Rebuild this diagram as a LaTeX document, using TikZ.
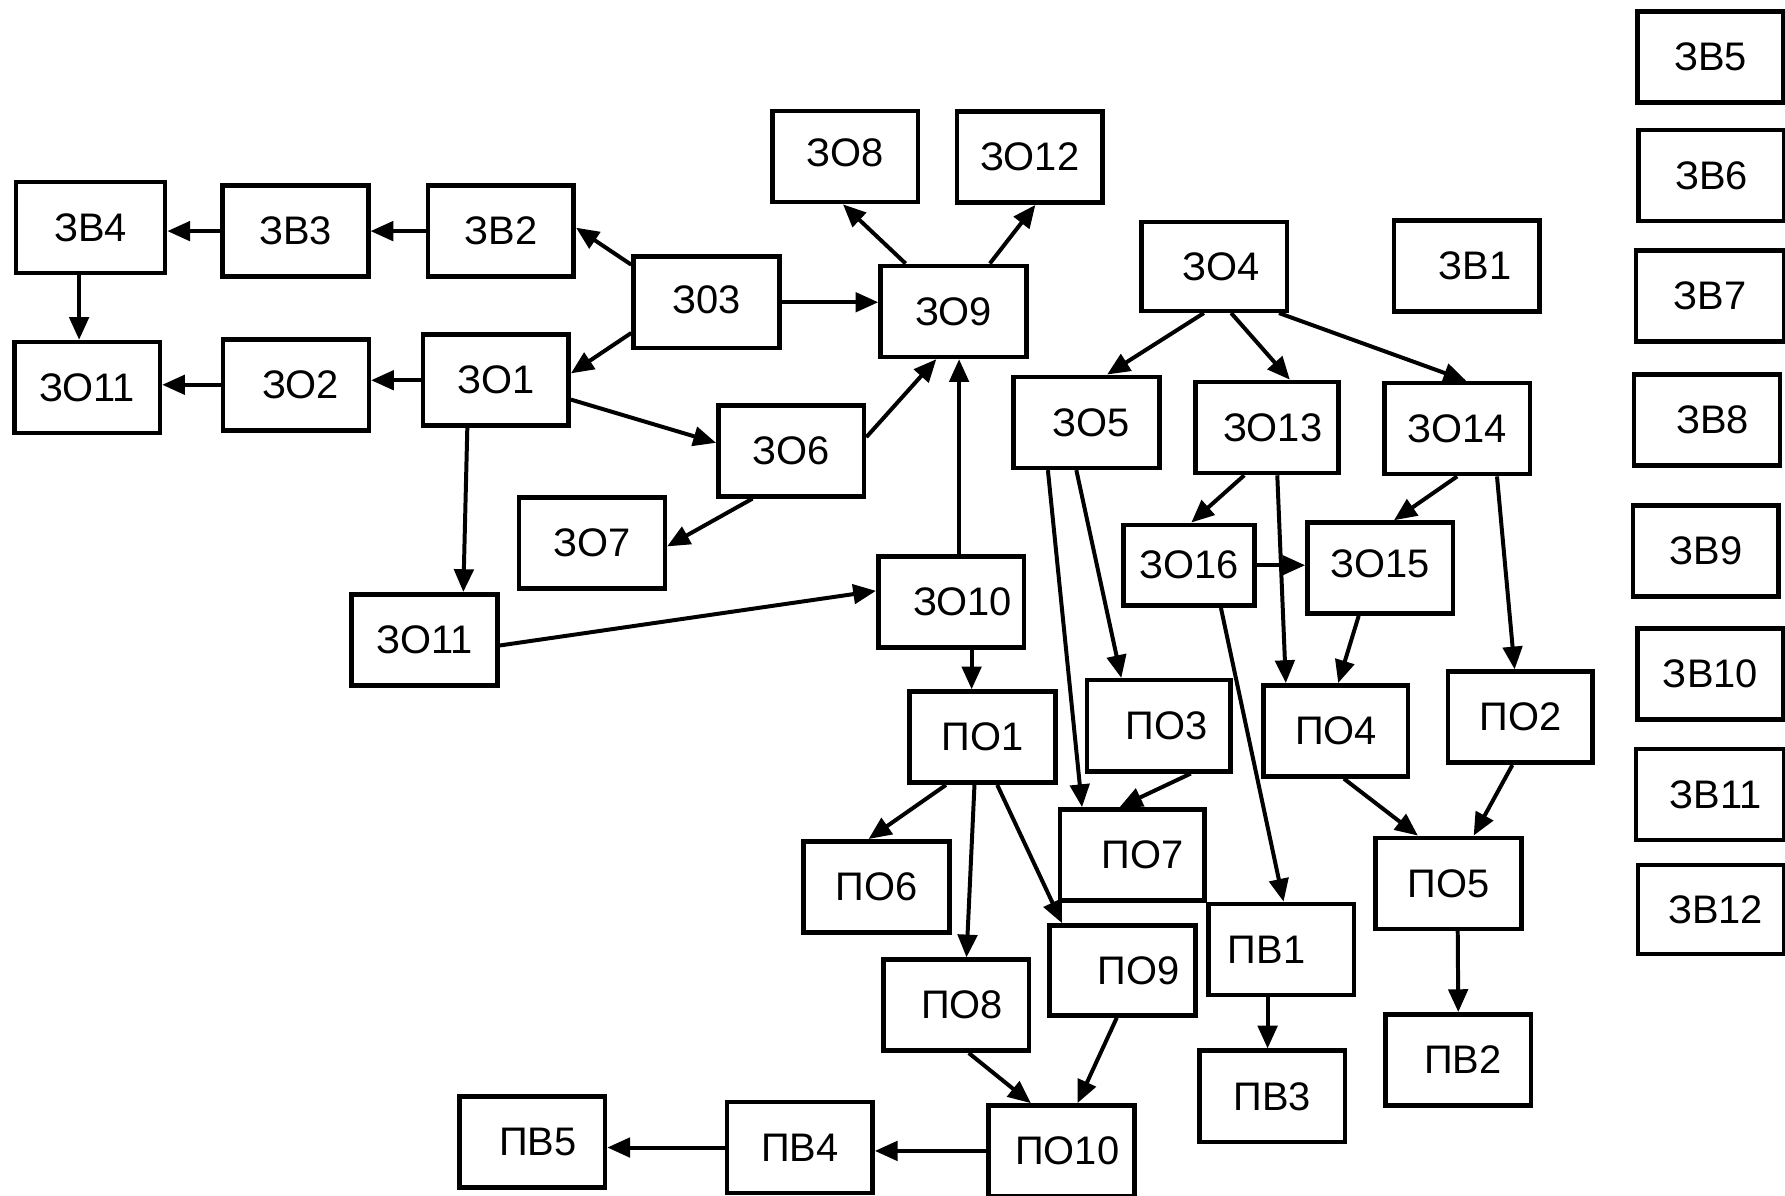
\documentclass[tikz,border=0pt]{standalone}
\usepackage{fontspec}
\setmainfont{Liberation Sans}
\usetikzlibrary{arrows.meta}
\tikzset{
  blk/.style={draw, line width=4pt, minimum width=128pt, minimum height=80pt,
    inner sep=0pt, font=\fontsize{35}{40}\selectfont},
  conn/.style={line width=3.5pt, -{Triangle[length=20pt,width=17pt]}},
}
\begin{document}
\begin{tikzpicture}[x=1pt,y=-1pt]
  \useasboundingbox (0,0) rectangle (1568,1050);
%%
  % Node: left group
  \node[blk, minimum width=131pt] (zv4) at (79.5,200) {ЗВ4};
  \node[blk] (zv3) at (259.5,203) {ЗВ3};
  \node[blk] (zv2) at (440,203) {ЗВ2};
  \node[blk] (zoA) at (76.5,340.5) {ЗО11};
  \node[blk] (zo2) at (260,338) {\hspace*{8pt}ЗО2};
  \node[blk] (zo1) at (435.5,334) {ЗО1};
  \node[blk] (zo3) at (620.5,265.5) {\raisebox{5pt}{З03}};
  \node[blk] (zo9) at (837.5,273.5) {ЗО9};
  \node[blk] (zo8) at (742.5,137.5) {\raisebox{7pt}{ЗО8}};
  \node[blk] (zo12) at (904.5,138) {ЗО12};
  \node[blk] (zo6) at (695,396) {ЗО6};
  \node[blk] (zo7) at (520,477) {ЗО7};
  \node[blk] (zoB) at (373,562) {ЗО11};
  \node[blk] (zo10) at (835.5,529) {\hspace*{20pt}ЗО10};
  % Node: right group
  \node[blk, minimum height=78pt] (zo4) at (1066.5,234) {\hspace*{12pt}ЗО4};
  \node[blk] (zv1) at (1288.5,233.5) {\hspace*{14pt}ЗВ1};
  \node[blk] (zo5) at (954.5,371) {\hspace*{8pt}ЗО5};
  \node[blk, minimum width=126pt] (zo13) at (1113,375.5) {\hspace*{10pt}ЗО13};
  \node[blk] (zo14) at (1280,376.5) {ЗО14};
  \node[blk, minimum width=115pt, minimum height=71pt] (zo16) at (1044.5,496.5) {ЗО16};
  \node[blk] (zo15) at (1212.5,499) {\raisebox{7pt}{ЗО15}};
  % Node: lower group
  \node[blk] (po1) at (863,647.5) {ПО1};
  \node[blk, minimum width=126pt] (po3) at (1018,637.5) {\hspace*{14pt}ПО3};
  \node[blk, minimum width=127pt] (po4) at (1173.5,642) {ПО4};
  \node[blk, minimum width=127pt] (po2) at (1335.5,630) {ПО2};
  \node[blk, minimum width=127pt] (po7) at (994.5,751) {\hspace*{18pt}ПО7};
  \node[blk] (po6) at (770,779) {ПО6};
  \node[blk] (po5) at (1272.5,776) {ПО5};
  \node[blk] (pv1) at (1125.5,834) {ПВ1\hspace*{26pt}};
  \node[blk, minimum height=79pt] (po9) at (986,852.5) {\hspace*{28pt}ПО9};
  \node[blk] (po8) at (840,883) {\hspace*{10pt}ПО8};
  \node[blk] (pv3) at (1117.5,963) {ПВ3};
  \node[blk] (pv2) at (1281,931) {\hspace*{8pt}ПВ2};
  \node[blk] (po10) at (932.5,1011) {\hspace*{10pt}ПО10};
  \node[blk] (pv4) at (702.5,1008) {ПВ4};
  \node[blk] (pv5) at (467.5,1003) {\hspace*{10pt}ПВ5};
  % Node: column
  \node[blk] (zv5) at (1502.5,50) {ЗВ5};
  \node[blk] (zv6) at (1503.5,154) {ЗВ6};
  \node[blk, minimum width=130pt] (zv7) at (1502,260) {ЗВ7};
  \node[blk] (zv8) at (1499.5,369) {\hspace*{10pt}ЗВ8};
  \node[blk] (zv9) at (1498.5,484) {ЗВ9};
  \node[blk] (zv10) at (1502.5,592) {ЗВ10};
  \node[blk, minimum width=130pt] (zv11) at (1502,698) {\hspace*{10pt}ЗВ11};
  \node[blk, minimum height=78pt] (zv12) at (1503,799) {\hspace*{8pt}ЗВ12};
%%
  % Edge: left group
  \draw[conn] (zv3.west) -- (zv3.west -| zv4.east);
  \draw[conn] (zv2.west) -- (zv2.west -| zv3.east);
  \draw[conn] ([xshift=-10pt]zv4.south) -- ([xshift=-10pt]zv4.south |- zoA.north);
  \draw[conn] (zo2.west) -- (zo2.west -| zoA.east);
  \draw[conn] (zo1.west) -- (zo1.west -| zo2.east);
  \draw[conn] ([yshift=-9pt]zo3.north west) -- ([yshift=3pt]zv2.east);
  \draw[conn] ([yshift=15pt]zo3.south west) -- ([yshift=6pt]zo1.east);
  \draw[conn] (zo3.east) -- (zo3.east -| zo9.west);
  \draw[conn] ([xshift=-42pt]zo9.north) -- ([xshift=-2pt]zo8.south);
  \draw[conn] ([xshift=32pt]zo9.north) -- ([xshift=5pt]zo12.south);
  \draw[conn] ([yshift=-17pt]zo1.east) -- ([yshift=7pt]zo6.west);
  \draw[conn] ([yshift=12pt]zo6.east) -- ([xshift=-15pt]zo9.south);
  \draw[conn] ([xshift=7pt]zo10.north) -- ([xshift=7pt]zo10.north |- zo9.south);
  \draw[conn] ([xshift=-34pt]zo6.south) -- ([yshift=-3pt]zo7.east);
  \draw[conn] ([xshift=-25pt]zo1.south) -- ([xshift=34pt]zoB.north);
  \draw[conn] ([yshift=-5pt]zoB.east) -- ([yshift=10pt]zo10.west);
  \draw[conn] ([xshift=18pt]zo10.south) -- ([xshift=18pt]zo10.south |- po1.north);
  % Edge: right group
  \draw[conn] ([xshift=-9pt]zo4.south) -- ([xshift=18pt]zo5.north);
  \draw[conn] ([xshift=15pt]zo4.south) -- ([xshift=20pt]zo13.north);
  \draw[conn] ([xshift=-9pt]zo4.south east) -- ([xshift=8pt]zo14.north);
  \draw[conn] ([xshift=-20pt]zo13.south) -- ([xshift=2pt]zo16.north);
  \draw[conn] (zo14.south) -- ([xshift=12pt]zo15.north);
  \draw[conn] (zo16.east) -- (zo16.east -| zo15.west);
  \draw[conn] ([xshift=-34pt]zo5.south) -- ([xshift=-44pt]po7.north);
  \draw[conn] ([xshift=-9pt]zo5.south) -- ([xshift=-33pt]po3.north);
  \draw[conn] ([xshift=9pt]zo13.south) -- ([xshift=-44pt]po4.north);
  \draw[conn] ([xshift=-19pt]zo15.south) -- ([xshift=2pt]po4.north);
  \draw[conn] ([xshift=35pt]zo14.south) -- ([xshift=-5pt]po2.north);
  \draw[conn] ([xshift=28pt]zo16.south) -- ([xshift=2pt]pv1.north);
  % Edge: lower group
  \draw[conn] ([xshift=28pt]po3.south) -- ([xshift=-11pt]po7.north);
  \draw[conn] ([xshift=7pt]po4.south) -- ([xshift=-27pt]po5.north);
  \draw[conn] ([xshift=-7pt]po2.south) -- ([xshift=22pt]po5.north);
  \draw[conn] ([xshift=-32pt]po1.south) -- ([xshift=-7pt]po6.north);
  \draw[conn] ([xshift=-7pt]po1.south) -- ([xshift=9pt]po8.north);
  \draw[conn] ([xshift=13pt]po1.south) -- ([xshift=13pt]po9.north west);
  \draw[conn] ([xshift=8pt]po5.south) -- (pv2.north);
  \draw[conn] ([xshift=-12pt]pv1.south) -- ([xshift=-12pt]pv1.south |- pv3.north);
  \draw[conn] ([xshift=11pt]po8.south) -- ([xshift=-27pt]po10.north);
  \draw[conn] ([xshift=-5pt]po9.south) -- ([xshift=14pt]po10.north);
  \draw[conn] (po10.west) -- (po10.west -| pv4.east);
  \draw[conn] (pv4.west) -- (pv4.west -| pv5.east);
%
\end{tikzpicture}
\end{document}
